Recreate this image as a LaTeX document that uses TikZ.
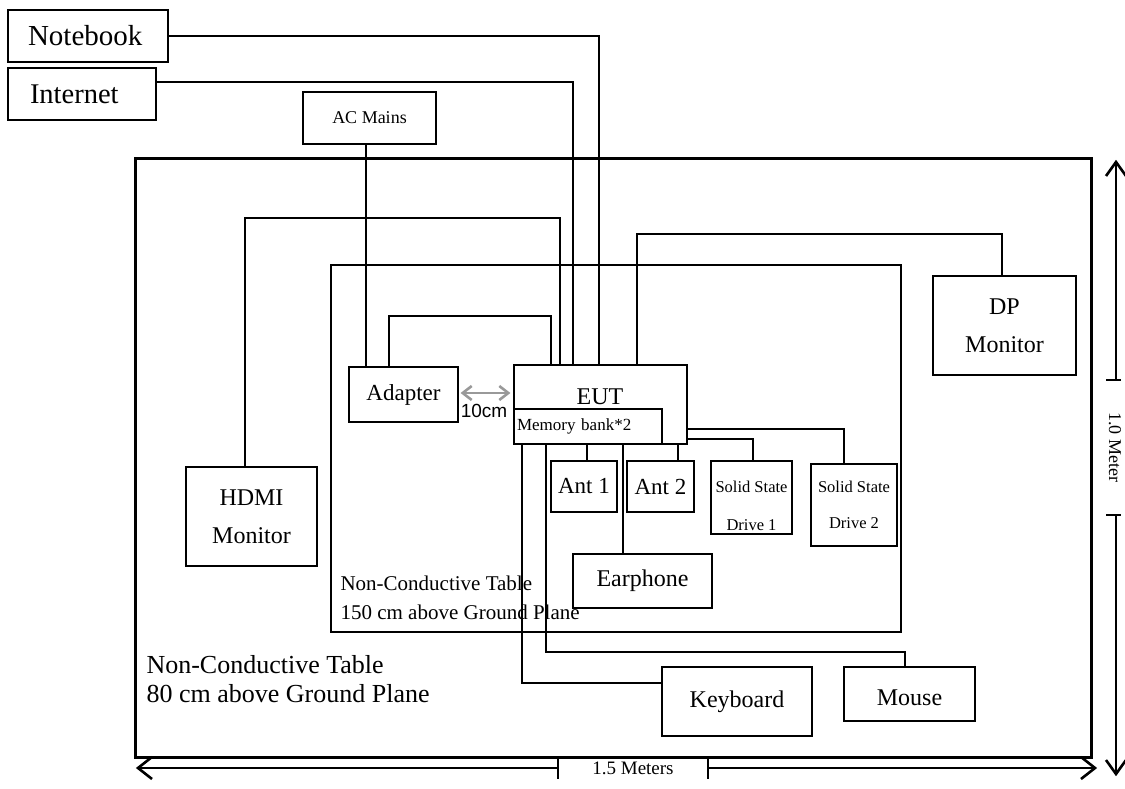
\documentclass[tikz,border=0pt]{standalone}
\usepackage{fontspec}
\setmainfont{Liberation Serif}
\newfontfamily\sansf{Liberation Sans}
\newcommand\fsz[2]{\fontsize{#1pt}{#2pt}\selectfont}
\begin{document}
\begin{tikzpicture}[x=1pt,y=-1pt,
  box/.style={draw, line width=1.4pt, inner sep=0pt, align=center},
  wire/.style={line width=1.2pt},
  dim/.style={line width=1.2pt},
  chev/.style={line width=2.6pt, line join=miter, miter limit=10},
  graychev/.style={line width=2.6pt, draw=black!40, line join=miter, miter limit=10}]
\useasboundingbox (0,0) rectangle (1125,789);

% tables
\node[draw, line width=3pt, inner sep=0pt, minimum width=956pt, minimum height=598pt] (tbl80) at (613,458) {};
\node[draw, line width=1.5pt, inner sep=0pt, minimum width=570pt, minimum height=367pt] (tbl150) at (616,448.5) {};
\node[anchor=west, align=left, font=\fsz{26}{28.5}] (t80) at (143,679) {Non-Conductive Table\\80 cm above Ground Plane};
\node[anchor=west, align=left, font=\fsz{21}{29}] (t150) at (337,597.5) {Non-Conductive Table\\150 cm above Ground Plane};

% outside boxes
\node[box, minimum width=160pt, minimum height=52pt, inner xsep=20pt, text width=120pt, align=left, font=\fsz{29}{34}] (ntb) at (88,36) {Notebook};
\node[box, minimum width=148pt, minimum height=52pt, inner xsep=22pt, text width=104pt, align=left, font=\fsz{28.5}{34}] (inet) at (82,94) {Internet};
\node[box, minimum width=133pt, minimum height=52pt, font=\fsz{18}{22}] (ac) at (369.5,118) {AC Mains};

% inside boxes
\node[box, minimum width=131pt, minimum height=99pt, font=\fsz{24}{38}] (hdmi) at (251.5,516.5) {HDMI\\Monitor};
\node[box, minimum width=109pt, minimum height=55pt, font=\fsz{23}{28}] (adapter) at (403.5,394.5) {Adapter};
\node[box, minimum width=173pt, minimum height=79pt] (eut) at (600.5,404.5) {};
\node[font=\fsz{24}{28}] (eutt) at (600,397) {EUT};
\node[box, minimum width=148pt, minimum height=35pt, inner xsep=3pt, text width=142pt, align=left, font=\fsz{17}{20}] (mem) at (588,426.5) {Memory bank*2};
\node[box, minimum width=143pt, minimum height=99pt, font=\fsz{24}{38}] (dp) at (1004.5,325.5) {DP\\Monitor};
\node[box, minimum width=66pt, minimum height=51pt, font=\fsz{23}{28}] (ant1) at (584,486.5) {Ant 1};
\node[box, minimum width=67pt, minimum height=51pt, font=\fsz{23}{28}] (ant2) at (660.5,486.5) {Ant 2};
\node[box, minimum width=81pt, minimum height=73pt] (ssd1) at (751.5,497.5) {};
\node[align=center, font=\fsz{16.5}{38}] (ssd1t) at ([yshift=-8pt]ssd1.center) {Solid State\\Drive 1};
\node[box, minimum width=86pt, minimum height=82pt, font=\fsz{16.5}{36}] (ssd2) at (854,505) {Solid State\\Drive 2};
\node[box, minimum width=139pt, minimum height=54pt, font=\fsz{24}{28}] (ear) at (642.5,581) {Earphone};
\node[box, minimum width=150pt, minimum height=69pt, font=\fsz{24}{28}] (kbd) at (737,701.5) {Keyboard};
\node[box, minimum width=131pt, minimum height=54pt, font=\fsz{24}{28}] (mouse) at (909.5,694) {};
\node[font=\fsz{24}{28}] (mouset) at (909.5,698) {Mouse};

% cables
\draw[wire] (ntb.east) -| (599,0 |- eut.north);
\draw[wire] ([yshift=12pt]inet.east) -| (573,0 |- eut.north);
\draw[wire] (ac.south -| 366,0) -- (366,0 |- adapter.north);
\coordinate (hdmibend) at (560,218);
\draw[wire] (hdmi.north -| 245,0) |- (hdmibend) -- (560,0 |- eut.north);
\coordinate (adbend) at (551,316);
\draw[wire] (adapter.north -| 389,0) |- (adbend) -- (551,0 |- eut.north);
\coordinate (dpbend) at (1002,234);
\draw[wire] (637,0 |- eut.north) |- (dpbend) -- (1002,0 |- dp.north);
\draw[wire] (eut.east |- 0,429) -| (844,0 |- ssd2.north);
\draw[wire] (eut.east |- 0,439) -| (753,0 |- ssd1.north);
\draw[wire] (678,0 |- eut.south) -- (678,0 |- ant2.north);
\draw[wire] (587,0 |- mem.south) -- (587,0 |- ant1.north);
\draw[wire] (623,0 |- mem.south) -- (623,0 |- ear.north);
\draw[wire] (522,0 |- mem.south) |- (kbd.west |- 0,683);
\coordinate (msbend) at (905,652);
\draw[wire] (546,0 |- mem.south) |- (msbend) -- (905,0 |- mouse.north);

% 10 cm
\path (adapter.east |- 0,393) ++(4,0) coordinate (gl);
\path (eut.west |- 0,393) ++(-5,0) coordinate (gr);
\draw[graychev] (gl) -- (gr);
\draw[graychev] ([shift={(9,-7)}]gl) -- (gl) -- ([shift={(9,7)}]gl);
\draw[graychev] ([shift={(-9,-7)}]gr) -- (gr) -- ([shift={(-9,7)}]gr);
\node[font=\sansf\fsz{19}{22}] (tencm) at (484,411) {10cm};

% dimensions horizontal
\coordinate (hl) at (138,768);
\coordinate (hr) at (1095,768);
\coordinate (ht1) at (558,768);
\coordinate (ht2) at (708,768);
\draw[dim] (hl) -- (ht1);
\draw[dim, line width=1.5pt] (ht2) -- (hr);
\draw[chev] ([shift={(14,-11)}]hl) -- (hl) -- ([shift={(14,11)}]hl);
\draw[chev] ([shift={(-14,-11)}]hr) -- (hr) -- ([shift={(-14,11)}]hr);
\draw[dim] ([yshift=11pt]ht1) -- ([yshift=-11pt]ht1);
\draw[dim] ([yshift=11pt]ht2) -- ([yshift=-11pt]ht2);
\node[font=\fsz{19}{22}] (hlab) at (633,768) {1.5 Meters};

% dimensions vertical
\coordinate (vt) at (1116,162);
\coordinate (vb) at (1116,774);
\coordinate (vt1) at (1116,380);
\coordinate (vt2) at (1116,515);
\draw[dim] (vt) -- (vt1);
\draw[dim] (vt2) -- (vb);
\draw[chev] ([shift={(-10,14)}]vt) -- (vt) -- ([shift={(10,14)}]vt);
\draw[chev] ([shift={(-10,-14)}]vb) -- (vb) -- ([shift={(10,-14)}]vb);
\draw[dim] ([xshift=-10pt]vt1) -- ([xshift=5pt]vt1);
\draw[dim] ([xshift=-10pt]vt2) -- ([xshift=5pt]vt2);
\node[rotate=-90, font=\fsz{18}{22}] (vlab) at (1115,447) {1.0 Meter};
\end{tikzpicture}
\end{document}
